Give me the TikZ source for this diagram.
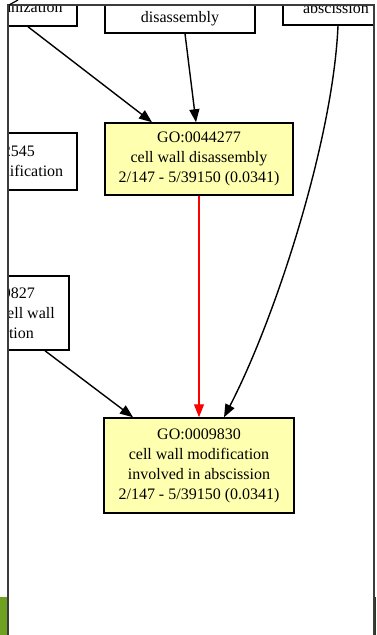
\documentclass[tikz,border=0pt]{standalone}
\usepackage{fontspec}
\setmainfont{Liberation Serif}
\usetikzlibrary{arrows.meta}
\definecolor{termfill}{RGB}{255,255,176}
\definecolor{framegray}{RGB}{60,60,60}
\definecolor{leafgreen}{RGB}{111,160,32}
\definecolor{darkleaf}{RGB}{40,60,20}
\tikzset{
  term/.style={draw=black, line width=1.5pt, fill=white, rectangle, align=center,
    inner sep=0pt, font=\fontsize{16}{20}\selectfont},
  hit/.style={term, fill=termfill},
  link/.style={draw=black, line width=1.4pt, -{Triangle[length=13pt,width=10pt]}},
  redlink/.style={draw=red, line width=1.2pt, -{Triangle[length=13pt,width=10pt]}},
}
\begin{document}
\begin{tikzpicture}[x=1pt,y=-1pt]
\useasboundingbox (0,0) rectangle (376,635);
\fill[white] (0,0) rectangle (376,635);
\fill[leafgreen] (0,597) rectangle (7,635);
\fill[darkleaf] (375,597) rectangle (376,635);

\begin{scope}
  \clip (8,5) rectangle (374,635);
  % terms above and beside the two highlighted ones
  \node[term, minimum width=167pt, minimum height=34pt] (tl) at (-6.5,9) {cell wall organization};
  \node[term, minimum width=150pt, minimum height=48pt] (tm) at (180,9) {cellular component\\disassembly};
  \node[term, minimum width=106pt, minimum height=34pt] (tr) at (336,8) {abscission};
  \node[term, minimum width=168pt, minimum height=57pt] (lb1) at (-7,161.5) {GO:0042545\\cell wall modification};
  \node[term, minimum width=152pt, minimum height=74pt] (lb2) at (-7,313) {GO:0009827\\plant-type cell wall\\modification};
  % highlighted terms
  \node[hit, minimum width=188pt, minimum height=72pt] (go1) at (199,159) {GO:0044277\\cell wall disassembly\\2/147 - 5/39150 (0.0341)};
  \node[hit, minimum width=190pt, minimum height=95pt] (go2) at (199,465.5) {GO:0009830\\cell wall modification\\involved in abscission\\2/147 - 5/39150 (0.0341)};

  % relations
  \draw[link] ([xshift=34.5pt]tl.south) -- ([xshift=-47pt]go1.north);
  \draw[link] ([xshift=5pt]tm.south) -- ([xshift=-3pt]go1.north);
  \draw[link] ([xshift=2pt]tr.south) .. controls +(-5,115) and +(51,-98) .. ([xshift=25pt]go2.north);
  \draw[redlink] (go1.south) -- (go2.north);
  \draw[link] ([xshift=52pt]lb2.south) -- ([xshift=-66pt]go2.north);
\end{scope}

% window frame
\draw[framegray, line width=1.6pt] (8,635) -- (8,5) -- (374,5) -- (374,635);
\draw[black, line width=1.2pt] (9,5) -- (18,0);
\end{tikzpicture}
\end{document}
